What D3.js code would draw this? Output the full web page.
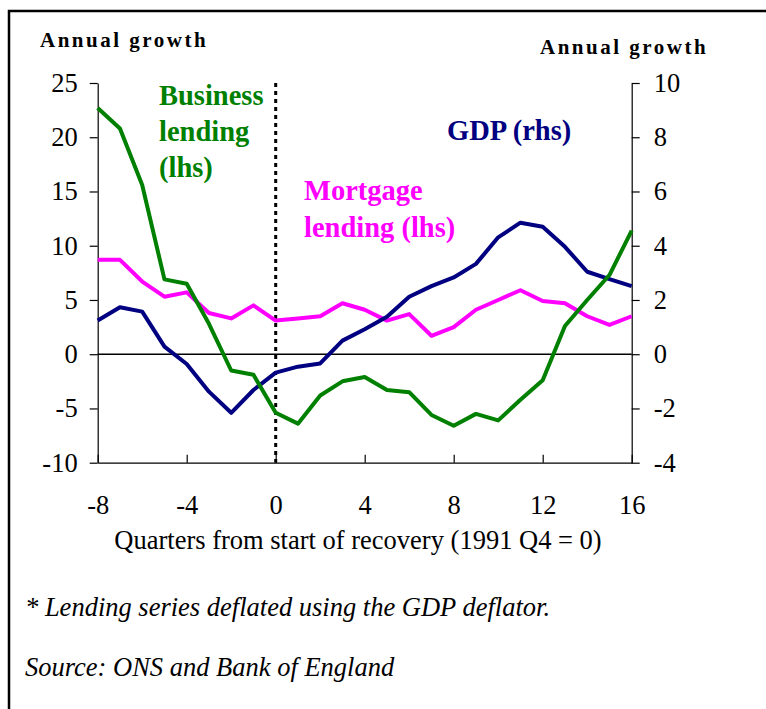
<!DOCTYPE html>
<html>
<head>
<meta charset="utf-8">
<script src="https://cdn.jsdelivr.net/npm/d3@7"></script>
<style>
  body { margin: 0; background: #fff; }
  svg { display: block; }
  text { font-family: "Liberation Serif", "Times New Roman", serif; }
</style>
</head>
<body>
<div class="board"></div>
<script>
var WIDTH = 766;
var HEIGHT = 709;

// quarters from start of recovery (1991 Q4 = 0)
var quarters = [-8, -7, -6, -5, -4, -3, -2, -1, 0, 1, 2, 3, 4, 5, 6, 7, 8, 9, 10, 11, 12, 13, 14, 15, 16];
// annual growth, %, lhs
var business = [22.7, 20.8, 15.6, 6.9, 6.5, 2.8, -1.5, -1.9, -5.4, -6.4, -3.8, -2.5, -2.1, -3.3, -3.5, -5.6, -6.6, -5.5, -6.1, -4.2, -2.4, 2.6, 5.0, 7.3, 11.4];
var mortgage = [8.7, 8.7, 6.7, 5.3, 5.7, 3.8, 3.3, 4.5, 3.1, 3.3, 3.5, 4.7, 4.1, 3.1, 3.7, 1.7, 2.5, 4.1, 5.0, 5.9, 4.9, 4.7, 3.5, 2.7, 3.5];
// annual growth, %, rhs
var gdp = [1.24, 1.73, 1.57, 0.28, -0.36, -1.38, -2.16, -1.32, -0.68, -0.46, -0.34, 0.5, 0.92, 1.38, 2.12, 2.51, 2.83, 3.33, 4.31, 4.85, 4.7, 3.96, 3.04, 2.77, 2.51];

var xTicks = [-8, -4, 0, 4, 8, 12, 16];
var leftTicks = [-10, -5, 0, 5, 10, 15, 20, 25];
var rightTicks = [-4, -2, 0, 2, 4, 6, 8, 10];

var plotLeft = 97.7, plotRight = 631.7, plotTop = 83, plotBottom = 462.7;

var x = d3.scaleLinear().domain([-8, 16]).range([plotLeft, plotRight]);
var yL = d3.scaleLinear().domain([-10, 25]).range([plotBottom, plotTop]);
var yR = d3.scaleLinear().domain([-4, 10]).range([plotBottom, plotTop]);

var plain = function(d) { return String(d); };

var svg = d3.select('.board')
  .append('svg')
  .attr('width', WIDTH)
  .attr('height', HEIGHT);

// outer frame (runs off the right and bottom edges)
svg.append('rect')
  .attr('x', 9).attr('y', 11)
  .attr('width', 800).attr('height', 760)
  .attr('fill', 'none')
  .attr('stroke', '#000')
  .attr('stroke-width', 2.5);

var styleAxis = function(g) {
  g.select('.domain').attr('stroke', '#000').attr('stroke-width', 1.2);
  g.selectAll('.tick line').attr('stroke', '#000').attr('stroke-width', 1.2);
  g.selectAll('.tick text')
    .attr('fill', '#000')
    .style('font-size', '26.5px')
    .style('font-family', '"Liberation Serif", "Times New Roman", serif');
};

svg.append('g')
  .attr('transform', 'translate(' + plotLeft + ',0)')
  .call(d3.axisLeft(yL).tickValues(leftTicks).tickFormat(plain).tickSize(8).tickPadding(12).tickSizeOuter(0))
  .call(styleAxis);

svg.append('g')
  .attr('transform', 'translate(' + plotRight + ',0)')
  .call(d3.axisRight(yR).tickValues(rightTicks).tickFormat(plain).tickSize(8).tickPadding(14).tickSizeOuter(0))
  .call(styleAxis);

svg.append('g')
  .attr('transform', 'translate(0,' + plotBottom + ')')
  .call(d3.axisBottom(x).tickValues(xTicks).tickFormat(plain).tickSize(-8).tickPadding(32).tickSizeOuter(0))
  .call(styleAxis);

// zero line
svg.append('line')
  .attr('x1', plotLeft).attr('x2', plotRight)
  .attr('y1', yL(0)).attr('y2', yL(0))
  .attr('stroke', '#000')
  .attr('stroke-width', 1.6);

// start of recovery
svg.append('line')
  .attr('x1', x(0)).attr('x2', x(0))
  .attr('y1', yL(25)).attr('y2', plotBottom)
  .attr('stroke', '#000')
  .attr('stroke-width', 3)
  .attr('stroke-dasharray', '4,4');

var series = [
  { values: mortgage, scale: yL, color: '#ff00ff' },
  { values: gdp, scale: yR, color: '#000080' },
  { values: business, scale: yL, color: '#008000' }
];

series.forEach(function(s) {
  var line = d3.line()
    .x(function(d, i) { return x(quarters[i]); })
    .y(function(d) { return s.scale(d); });
  svg.append('path')
    .datum(s.values)
    .attr('d', line)
    .attr('fill', 'none')
    .attr('stroke', s.color)
    .attr('stroke-width', 4)
    .attr('stroke-linejoin', 'round');
});

var addText = function(lines, xPos, y0, dy, color, opts) {
  lines.forEach(function(t, i) {
    var el = svg.append('text')
      .attr('x', xPos)
      .attr('y', y0 + i * dy)
      .attr('fill', color)
      .style('font-size', opts.size + 'px')
      .style('font-weight', opts.weight || 'normal')
      .style('font-style', opts.style || 'normal')
      .text(t);
    if (opts.spacing) el.style('letter-spacing', opts.spacing + 'px');
    if (opts.anchor) el.attr('text-anchor', opts.anchor);
  });
};

addText(['Annual growth'], 40, 47, 0, '#000', { size: 21, weight: 'bold', spacing: 2.5 });
addText(['Annual growth'], 540, 54, 0, '#000', { size: 21, weight: 'bold', spacing: 2.5 });
addText(['Business', 'lending', '(lhs)'], 159, 105, 36, '#008000', { size: 28.5, weight: 'bold' });
addText(['GDP (rhs)'], 447, 140, 0, '#000080', { size: 28.5, weight: 'bold' });
addText(['Mortgage', 'lending (lhs)'], 304, 200, 37, '#ff00ff', { size: 28.5, weight: 'bold' });

addText(['Quarters from start of recovery (1991 Q4 = 0)'], 358, 549, 0, '#000', { size: 26.5, anchor: 'middle' });
addText(['* Lending series deflated using the GDP deflator.'], 25, 616, 0, '#000', { size: 26.5, style: 'italic' });
addText(['Source: ONS and Bank of England'], 25, 676, 0, '#000', { size: 26.5, style: 'italic' });
</script>
</body>
</html>
